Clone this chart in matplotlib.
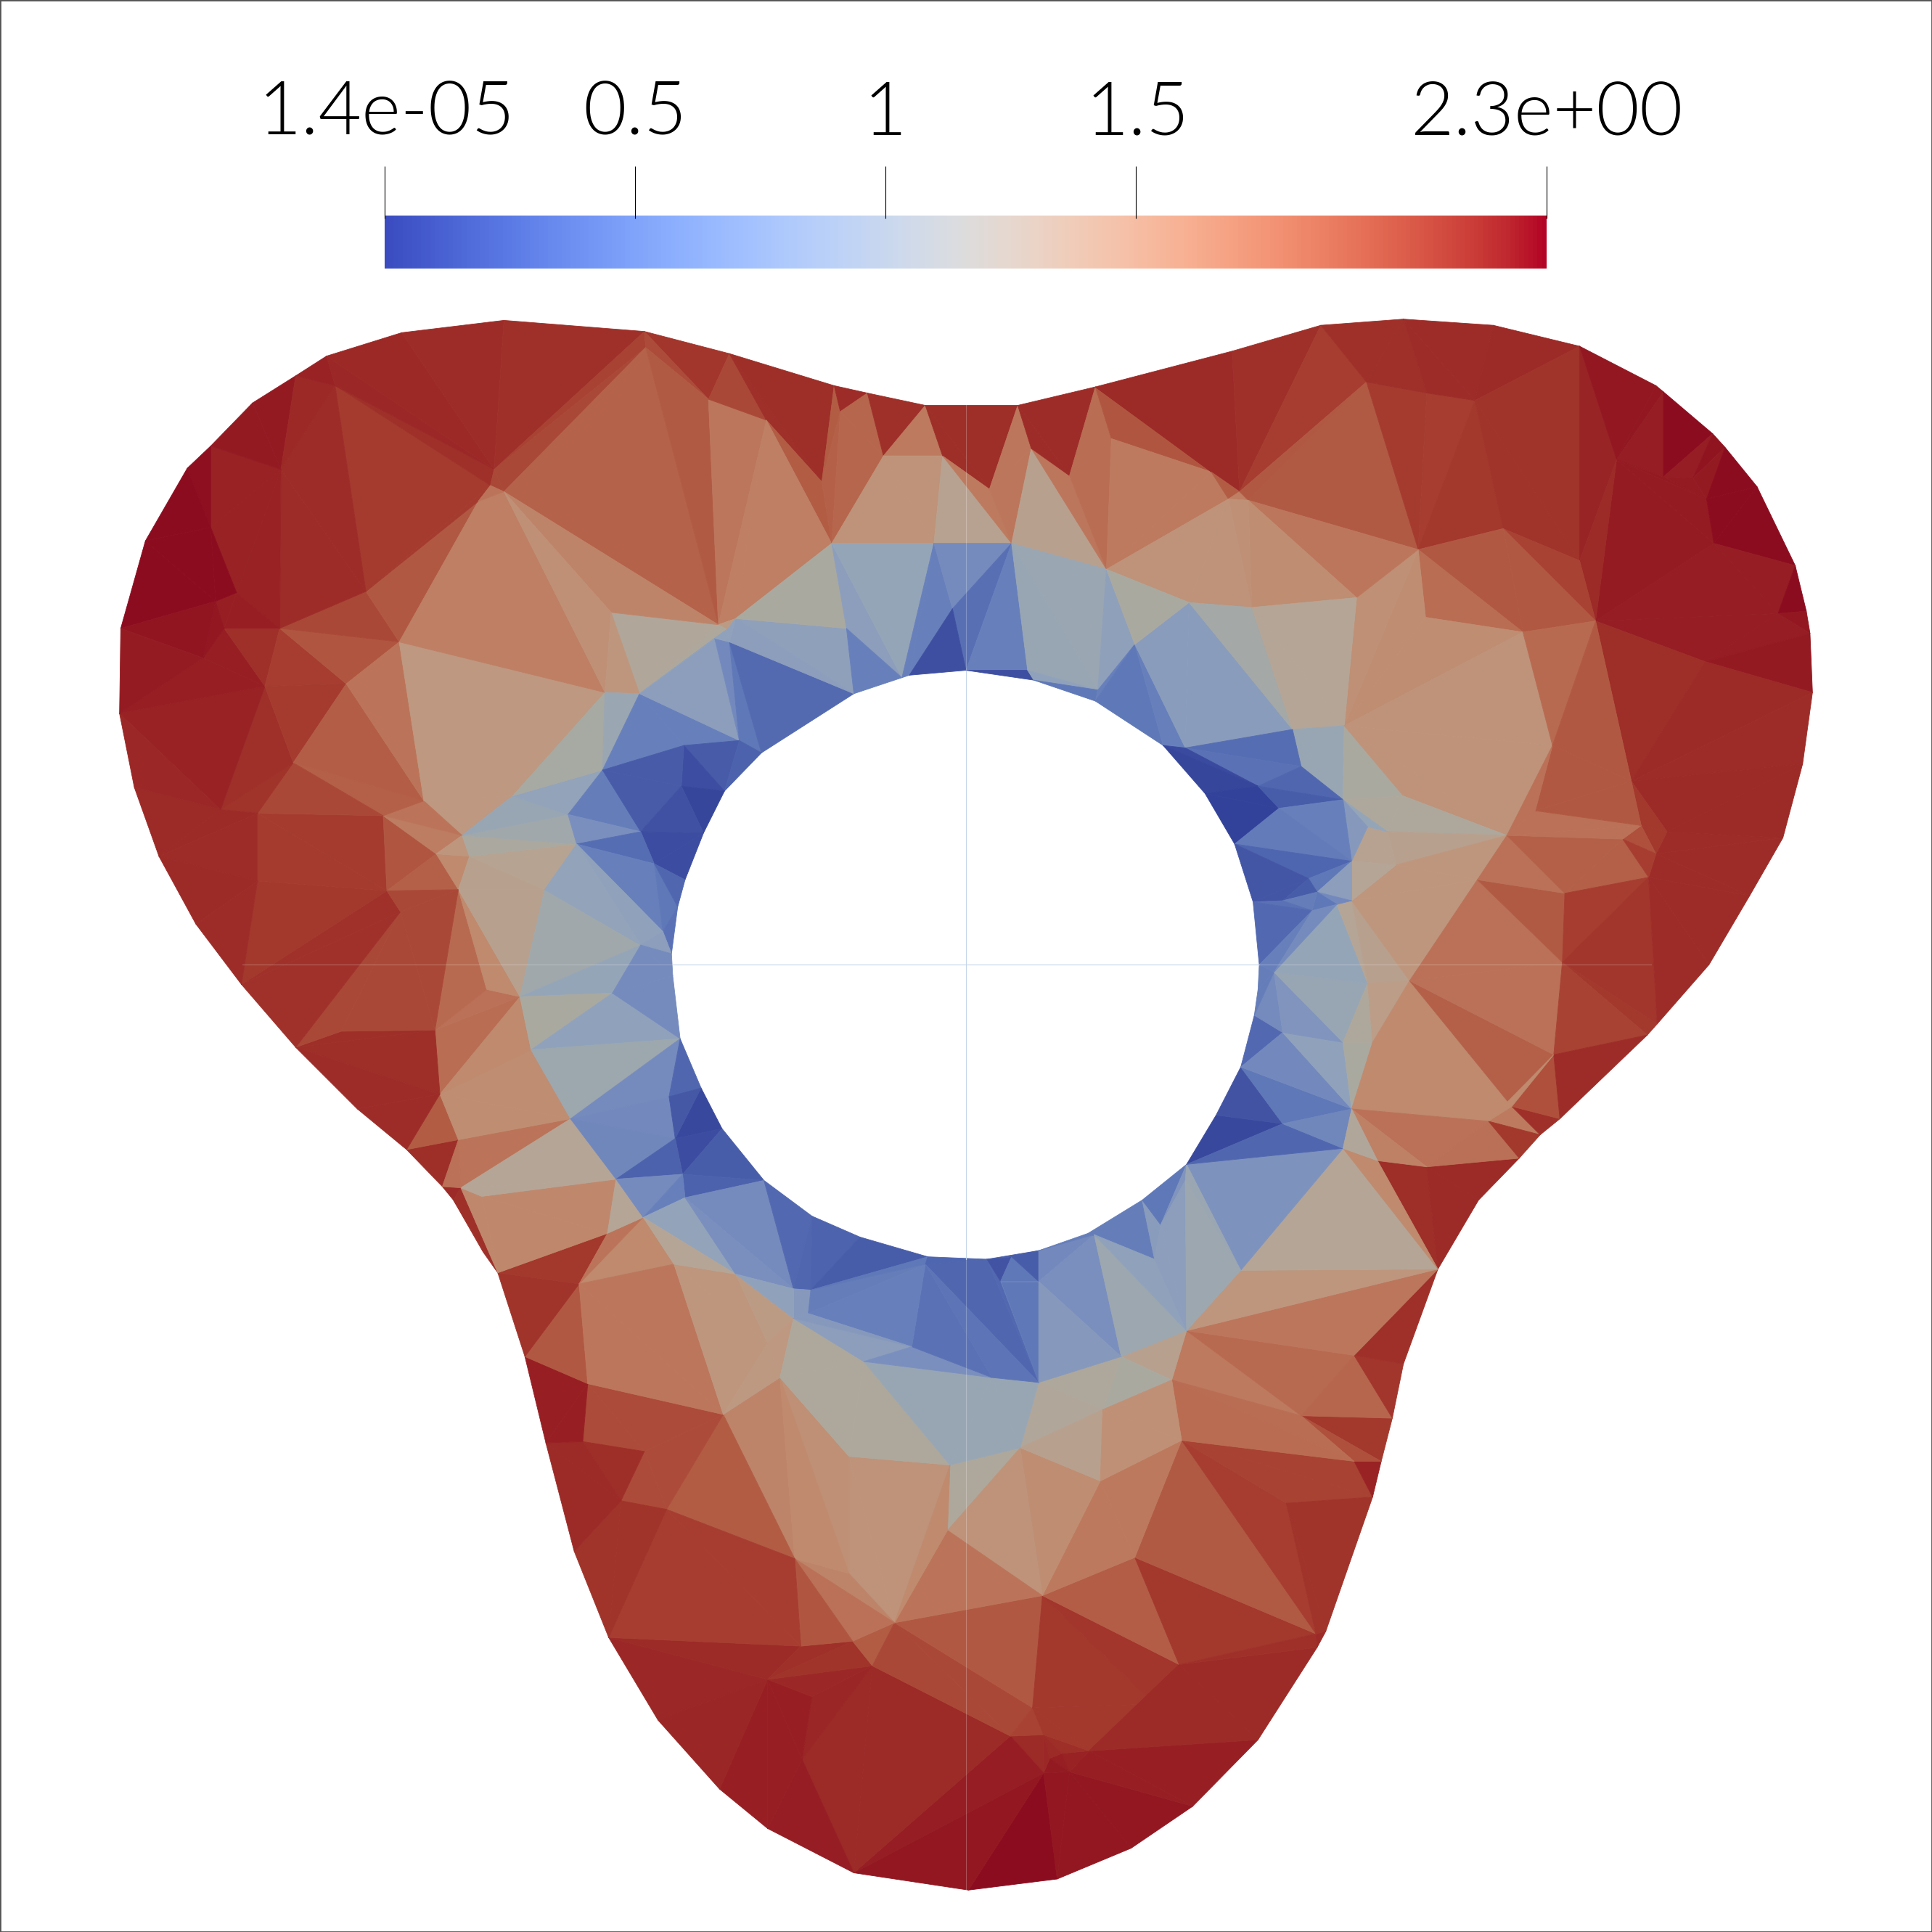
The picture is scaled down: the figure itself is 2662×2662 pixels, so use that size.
import numpy as np
import matplotlib
matplotlib.use("Agg")
import matplotlib.pyplot as plt
from matplotlib.colors import LinearSegmentedColormap
from matplotlib.tri import Triangulation

plt.rcParams['font.family'] = ['Lato', 'Liberation Sans', 'DejaVu Sans']

# mesh nodes (1568 px frame, y down)
node_x = [786,858,918,968,1021,1069,1076,1114,1121,1130,
          1139,1167,1200,1233,1250,1266,1337,1345,1387,1420,
          1447,1463,1471,1469,1466,1457,1426,1400,1390,1350,
          1344,1282,1212,1139,1072,1000,889,826,751,704,
          677,592,523,409,326,265,240,205,171,152,
          118,98,97,109,129,159,196,240,290,330,
          359,368,392,404,426,443,466,494,534,584,
          623,693,784,839,889,944,978,1002,1017,1022,
          1021,1018,1007,987,963,927,883,843,801,753,
          698,659,620,586,569,552,546,545,550,556,
          571,588,618,693,732,738,272,228,171,192,
          175,182,227,297,401,398,388,409,324,281,
          215,165,238,344,491,416,489,179,209,311,
          375,354,381,461,468,520,531,538,520,442,
          372,314,325,209,422,497,431,395,353,277,
          357,372,463,543,548,500,554,556,522,374,
          391,493,470,547,597,644,658,656,644,623,
          633,587,477,541,504,523,473,645,689,689,
          701,740,751,771,769,726,650,692,708,623,
          659,651,524,575,622,667,682,717,765,803,
          837,868,675,758,821,583,496,519,597,687,
          590,580,592,600,555,553,563,773,834,898,
          902,983,1006,997,1013,1109,1158,1197,1151,1220,
          1282,1312,1350,1374,1385,1391,1443,1295,1384,1236,
          1157,1101,1016,965,921,891,962,1049,1091,1260,
          1324,1056,1021,1090,1139,1246,1223,1038,1126,1110,
          1097,1133,1062,1069,1041,1065,1085,1097,1270,1317,
          1332,1353,1344,1338,1199,1268,1144,1261,1227,1208,
          1158,1118,1097,1090,1114,1090,1110,1034,1041,1041,
          962,942,937,888,1007,963,910,843,843,812,
          821,805,951,959,895,893,828,846,921,1099,
          1056,1099,1044,1068,957,937,884,862,852,847,
          868,820,847,838]
node_y = [1534,1525,1500,1466,1412,1337,1324,1215,1186,1151,
          1107,1030,974,940,921,908,840,831,783,727,
          680,620,562,514,496,459,395,363,352,318,
          313,281,264,259,264,285,314,329,329,319,
          313,287,269,260,270,289,305,327,362,380,
          439,510,579,639,695,750,799,850,900,933,
          963,974,1016,1033,1101,1171,1259,1329,1396,1452,
          1484,1520,544,552,569,605,644,685,732,783,
          803,824,866,905,945,974,1001,1015,1022,1020,
          1004,987,958,916,883,843,792,774,736,714,
          676,642,611,563,550,548,313,381,428,481,
          488,510,510,480,381,394,407,399,521,555,
          557,534,619,650,562,646,625,657,660,662,
          678,693,695,661,685,675,701,756,767,722,
          722,723,740,715,809,806,852,803,836,837,
          888,925,908,890,924,957,953,972,988,964,
          971,1001,1042,1026,1034,1046,1047,1066,1070,1090,
          1118,1148,1123,1225,1218,1178,1170,1265,1277,1182,
          1105,1093,1026,1189,1242,1317,1336,1332,1352,1363,
          1377,1428,282,324,341,391,334,370,370,397,
          364,386,441,441,441,507,497,563,502,510,
          511,518,521,601,605,638,660,494,544,462,
          356,383,399,405,406,310,319,325,446,429,
          455,373,387,388,405,441,498,504,537,513,
          501,485,493,489,523,560,607,592,589,605,
          634,622,638,649,646,658,678,656,675,671,
          699,702,713,724,731,739,734,731,725,681,
          670,675,693,712,714,781,796,856,898,910,
          947,942,900,932,846,846,798,789,838,912,
          958,994,1022,1002,1031,1080,1101,1040,1122,1040,
          1020,1118,1120,1169,1144,1202,1175,1295,1264,1100,
          1149,1186,1220,1326,1351,1383,1421,1423,1427,1439,
          1438,1409,1408,1386]

# bottom lobe
bottom_tris = [(0,1,319),(71,0,319),(1,320,319),(1,2,320),(2,3,320),(3,4,316),(3,316,320),(316,317,320),
               (317,318,320),(318,319,320),(322,316,317),(322,317,318),(322,318,319),(321,322,319),(321,319,71),(188,321,71),
               (188,71,191),(190,188,191),(189,190,191),(191,71,70),(189,191,70),(189,70,69),(189,188,190),(67,68,189),
               (68,69,189),(67,189,186),(186,187,189),(187,188,189),(187,185,188),(185,321,188),(185,323,321),(185,307,323),
               (321,323,322),(323,316,322),(323,315,316),(307,315,323),(307,314,315),(307,308,314),(314,4,316),(314,316,315),
               (314,5,4),(308,313,314),(313,5,314),(313,6,5)]
bottom_vals = [2.3,2.22,2.22,2.22,2.22,2.17,2.17,2.15,
               2.17,2.2,2.07,2.1,2.12,2.1,2.18,2.1,
               2.1,2.13,2.17,2.18,2.17,2.17,2.12,2.12,
               2.13,2.1,2.05,2.03,1.85,1.93,1.93,1.87,
               1.95,2.0,2.0,2.0,2.02,1.84,2.1,2.1,
               2.1,2.0,2.05,2.1]

# lower right, up to the neck
lowright_tris = [(308,303,313),(303,312,313),(303,311,7),(303,7,312),(312,7,6),(312,6,313),(305,303,308),(305,308,307),
                 (306,305,307),(183,306,184),(184,306,307),(184,307,185),(179,183,185),(179,185,178),(183,184,185),(177,178,185),
                 (170,179,178),(171,170,177),(170,178,177),(177,185,187),(177,187,186),(173,171,177),(173,177,186),(173,186,67),
                 (8,7,311),(310,9,8),(310,8,311),(295,310,302),(302,310,311),(302,311,303),(295,302,296),(296,302,304),
                 (298,296,304),(298,304,306),(304,305,306),(304,302,303),(304,303,305),(295,309,310),(309,9,310),(309,10,9),
                 (309,11,10),(295,11,309),(294,11,295),(283,294,11),(281,280,11),(280,12,11),(280,13,12),(283,281,11)]
lowright_vals = [1.86,1.97,1.95,1.95,2.03,2.03,1.66,1.66,
                 1.47,1.2,1.42,1.7,1.42,1.42,1.5,1.55,
                 1.45,1.55,1.5,1.72,1.88,1.85,1.97,1.97,
                 2.15,2.0,1.9,1.65,1.75,1.76,1.3,1.17,
                 1.2,1.22,1.3,1.45,1.45,1.78,1.8,2.02,
                 2.05,1.68,1.4,1.25,2.07,2.1,2.1,1.5]

# lower left flank
lowleft_tris = [(173,174,175),(172,171,175),(175,171,173),(172,175,176),(174,173,67),(66,174,67),(176,175,174),(65,176,174),
                (65,174,66),(64,172,65),(172,176,65),(64,162,172),(63,162,64),(63,161,162),(162,158,163),(161,158,162),
                (162,163,171),(162,171,172),(163,164,169),(163,169,171),(169,170,171),(164,168,169),(168,170,169),(168,180,170),
                (180,179,170),(180,183,179),(180,301,183),(301,298,306),(301,306,183),(168,181,180),(181,301,180),(182,301,181),
                (182,88,298),(182,298,301),(88,299,298),(88,300,299),(300,297,299),(300,87,297),(299,297,298),(88,87,300)]
lowleft_vals = [1.92,1.92,1.92,1.92,2.03,2.03,2.07,2.1,
                2.1,2.17,2.17,1.87,2.03,2.0,1.5,1.7,
                1.68,1.68,1.4,1.4,1.37,1.35,1.38,1.2,
                1.2,1.2,1.03,1.03,1.03,0.9,0.75,0.5,
                0.4,0.53,0.42,0.2,0.55,0.3,0.55,0.3]

# blue ring, bottom right part
ringbr_tris = [(87,293,297),(297,293,296),(297,296,298),(86,293,87),(86,85,292),(86,292,293),(293,295,296),(293,292,295),
               (85,291,292),(85,84,291),(84,290,291),(290,295,291),(291,295,292),(84,283,294),(84,294,290),(290,294,295),
               (83,289,84),(289,283,84),(82,289,83),(82,282,289),(289,282,283),(81,288,82),(288,282,82),(288,285,282),
               (287,288,81),(80,287,81),(79,287,80),(287,285,288),(287,286,285),(266,286,287),(266,267,286),(267,276,286),
               (282,285,284),(284,285,286),(284,286,276),(282,284,279),(284,276,278),(284,278,279),(282,279,280),(279,13,280),
               (282,280,281),(282,281,283),(279,278,14),(279,14,13),(278,15,14),(276,277,278),(278,277,15)]
ringbr_vals = [0.7,0.75,0.85,0.6,0.6,0.6,1.07,0.95,
               0.88,0.55,0.8,0.9,0.9,0.78,1.05,1.07,
               0.08,0.4,0.2,0.55,0.68,0.42,0.7,0.95,
               0.72,0.6,0.6,0.8,1.03,1.0,1.25,1.3,
               1.17,1.2,1.33,1.5,1.5,1.5,1.72,1.73,
               1.58,1.22,1.65,2.0,2.05,1.83,1.9]

# left, neck and ring
left_tris = [(60,159,61),(61,159,63),(61,63,62),(160,155,161),(160,161,63),(159,160,63),(155,158,161),(151,152,159),
             (159,152,155),(159,155,160),(59,151,60),(151,159,60),(59,150,151),(150,146,152),(150,152,151),(148,144,150),
             (144,146,150),(148,147,144),(140,147,148),(140,144,147),(140,139,144),(139,138,144),(138,145,144),(144,145,146),
             (145,95,146),(146,95,152),(95,153,152),(95,94,153),(153,154,152),(152,154,155),(94,93,154),(94,154,153),
             (93,156,154),(154,156,155),(93,92,156),(92,157,156),(155,156,158),(156,157,158),(157,164,158),(158,164,163),
             (157,92,165),(92,91,165),(157,165,164),(91,166,165),(91,90,166),(90,89,166),(165,166,167),(165,167,168),
             (166,182,167),(167,182,181),(164,165,168),(167,181,168),(166,89,182),(182,89,88)]
left_vals = [2.1,2.05,2.05,1.52,1.52,1.52,1.25,1.7,
             1.25,1.25,2.07,1.72,1.85,1.47,1.47,1.75,
             1.5,1.72,1.78,1.5,1.3,1.1,1.0,1.17,
             0.95,1.08,0.72,0.4,0.7,0.68,0.08,0.25,
             0.12,0.35,0.3,0.35,0.72,0.62,0.98,1.25,
             0.72,0.42,0.75,0.4,0.36,0.3,0.85,0.85,
             0.6,0.62,0.95,0.85,0.55,0.38]

# left lobe
leftlobe_tris = [(57,149,148),(57,148,150),(57,150,58),(58,150,59),(142,140,148),(142,148,149),(142,149,57),(141,142,56),
                 (142,57,56),(143,141,56),(128,129,141),(128,141,143),(129,131,141),(131,140,141),(131,132,140),(129,130,131),
                 (130,132,131),(132,139,140),(132,134,139),(130,134,132),(130,133,134),(123,125,130),(125,133,130),(125,126,133),
                 (123,130,129),(122,123,129),(122,129,128),(122,128,127),(53,54,127),(54,127,128),(54,128,143),(54,143,55),
                 (55,143,56),(141,140,142),(120,122,127),(52,120,127),(52,127,53),(121,120,52),(111,120,121),(111,112,120),
                 (112,119,120),(120,119,122),(112,118,119),(112,113,118),(119,123,122),(119,118,123),(118,125,123),(118,124,125),
                 (125,124,126),(113,116,118),(116,117,118),(117,124,118),(113,115,116),(106,115,113),(106,114,115),(106,107,113),
                 (107,112,113),(48,107,108),(108,107,109),(109,107,112),(109,112,111),(110,109,111),(46,47,107),(47,48,107),
                 (46,106,107),(45,106,46),(45,114,106),(44,114,45),(43,114,44),(114,43,42),(114,42,192),(114,192,117),
                 (114,117,115),(115,117,116),(48,49,108),(49,50,108),(50,110,108),(108,110,109),(50,51,110),(110,111,121),
                 (51,110,121),(51,121,52)]
leftlobe_vals = [2.07,2.07,2.08,2.08,1.93,1.93,1.93,2.04,
                 2.04,2.0,1.98,1.98,1.88,1.83,1.5,1.62,
                 1.4,1.3,1.27,1.18,1.1,1.38,1.03,0.97,
                 1.7,1.83,1.93,2.03,2.1,2.1,2.08,2.1,
                 2.08,1.93,2.06,2.15,2.12,2.17,2.17,2.05,
                 1.97,1.98,1.88,1.93,1.84,1.7,1.38,1.38,
                 1.15,1.87,1.6,1.6,1.98,1.98,2.05,2.08,
                 2.08,2.15,2.15,2.15,2.17,2.17,2.2,2.2,
                 2.11,2.15,2.12,2.11,2.08,2.05,1.95,1.93,
                 1.93,1.7,2.28,2.3,2.3,2.3,2.3,2.22,
                 2.24,2.19]

# top middle
top_tris = [(42,41,193),(42,193,192),(117,192,205),(192,193,205),(193,194,205),(194,208,205),(41,194,193),(41,195,194),
            (41,40,195),(194,195,202),(194,202,208),(40,196,195),(195,196,202),(40,39,196),(196,39,197),(196,197,202),
            (39,38,197),(38,198,197),(197,198,203),(197,203,202),(198,204,203),(38,37,199),(38,199,198),(198,199,204),
            (37,200,199),(199,200,204),(200,219,204),(200,201,219),(37,36,201),(37,201,200),(36,220,201),(201,220,219),
            (36,221,220),(220,221,219),(221,223,219),(36,222,221),(36,35,222),(35,34,222),(221,222,223),(34,225,222),
            (34,33,225),(222,224,223),(222,225,224)]
top_vals = [2.02,1.92,1.82,1.86,1.68,1.6,1.93,2.06,
            2.07,1.85,1.6,1.85,1.83,2.08,1.8,1.8,
            2.05,1.65,1.42,1.42,1.28,2.07,2.07,1.65,
            1.68,1.68,1.3,1.68,2.08,2.08,1.75,1.75,
            1.88,1.65,1.65,2.1,2.1,2.05,1.85,1.97,
            2.05,1.6,1.87]

# blue ring, top part
ringtop_tris = [(205,208,210),(205,210,207),(206,205,207),(117,205,206),(117,206,124),(206,207,124),(124,207,126),(126,207,214),
                (207,213,214),(207,211,213),(207,210,211),(211,212,213),(212,102,213),(212,103,102),(208,209,103),(208,103,212),
                (208,212,210),(210,212,211),(208,202,209),(202,209,104),(209,103,104),(202,203,104),(203,217,105),(104,203,105),
                (203,204,217),(217,204,72),(217,72,105),(204,218,72),(72,218,73),(204,219,245),(219,244,245),(204,245,218),
                (218,245,73),(73,245,74),(245,244,74),(244,75,74),(244,246,75),(244,243,246),(243,247,246),(214,213,101),
                (213,102,101),(214,101,215),(215,101,100),(126,214,215),(126,135,133),(126,215,135),(215,100,135),(133,135,134),
                (135,100,136),(134,135,136),(100,99,136),(134,136,137),(136,98,137),(136,99,98),(98,97,137),(134,137,138),
                (134,138,139),(137,97,138),(138,97,96),(138,96,145),(145,96,95)]
ringtop_vals = [1.35,1.2,1.22,1.55,1.45,1.4,1.05,0.62,
                0.62,0.9,0.95,0.7,0.55,0.43,0.93,0.9,
                0.95,0.95,1.17,0.9,0.62,1.0,0.62,0.62,
                0.72,0.48,0.15,0.62,0.15,1.05,0.93,1.03,
                0.95,0.55,0.62,0.55,0.62,0.88,0.88,0.28,
                0.35,0.14,0.05,0.28,0.6,0.28,0.18,0.75,
                0.12,0.45,0.12,0.62,0.55,0.4,0.5,0.95,
                0.97,0.9,0.72,0.72,0.72]

# right lobe
rightlobe_tris = [(224,225,228),(225,226,228),(226,227,228),(33,226,225),(33,32,227),(33,227,226),(32,31,227),(227,229,228),
                  (227,31,230),(227,230,229),(31,231,230),(31,30,231),(30,29,231),(29,232,231),(29,28,232),(28,233,232),
                  (28,27,233),(27,234,233),(27,26,234),(232,233,234),(231,232,234),(231,234,235),(231,235,237),(230,231,237),
                  (26,25,235),(26,235,234),(235,25,236),(25,24,236),(235,236,237),(24,23,236),(236,23,238),(236,238,237),
                  (23,22,238),(237,238,250),(238,22,250),(22,21,250),(229,230,237),(228,229,239),(229,237,239),(228,239,240),
                  (240,239,248),(228,240,248),(228,248,241),(224,228,241),(224,241,242),(223,224,242),(223,242,243),(219,223,243),
                  (219,243,244),(243,242,247),(242,241,248),(242,248,247),(247,248,253),(247,253,251),(246,247,251),(246,251,252),
                  (75,246,252),(75,252,76),(76,252,257),(76,257,77),(251,253,252),(252,253,257),(248,254,253),(248,239,249),
                  (248,249,256),(248,256,254),(254,256,258),(253,254,258),(258,256,261),(267,261,274),(261,256,274),(267,274,276),
                  (259,258,261),(259,261,260),(253,258,259),(253,259,260),(260,261,267),(257,253,260),(77,257,260)]
rightlobe_vals = [1.86,1.98,1.97,2.06,2.08,2.08,2.1,2.0,
                  2.03,2.03,2.14,2.22,2.22,2.18,2.3,2.18,
                  2.25,2.2,2.3,2.19,2.2,2.19,2.19,2.1,
                  2.3,2.3,2.18,2.3,2.18,2.22,2.18,2.18,
                  2.2,2.07,2.1,2.08,1.95,1.87,1.87,1.75,
                  1.47,1.47,1.45,1.68,1.47,1.45,1.42,1.42,
                  1.17,1.13,1.25,1.25,1.03,1.03,0.45,0.5,
                  0.1,0.05,0.02,0.02,0.4,0.3,1.17,1.42,
                  1.42,1.42,1.2,1.2,1.3,1.4,1.4,1.4,
                  1.28,1.28,1.0,0.85,1.25,0.62,0.58]

# right side of the ring and the outer flank
right_tris = [(77,260,262),(77,262,78),(78,262,264),(262,260,263),(263,260,267),(263,267,266),(263,266,265),(262,263,264),
              (263,265,264),(78,264,265),(78,265,79),(79,265,287),(265,266,287),(276,275,277),(276,274,275),(274,268,275),
              (274,256,268),(256,269,268),(269,273,268),(268,273,275),(273,17,275),(275,17,16),(275,16,277),(277,16,15),
              (273,18,17),(273,19,18),(273,272,19),(272,20,19),(271,20,272),(21,20,271),(250,21,271),(250,271,270),
              (270,271,272),(269,270,272),(269,272,273),(256,255,270),(256,270,269),(249,250,255),(250,270,255),(249,255,256),
              (239,237,249),(237,250,249),(278,277,279)]
right_vals = [0.38,0.22,0.22,0.55,0.9,0.7,0.55,0.3,
              0.6,0.5,0.42,0.62,0.72,1.72,1.72,1.86,
              1.72,1.83,1.83,1.97,2.02,2.0,1.95,2.08,
              2.08,2.08,2.08,2.08,2.08,2.1,2.1,2.0,
              2.0,1.9,1.97,1.72,1.72,1.87,1.87,1.72,
              1.78,1.87,1.5]

# colours of the lit surface at a few data values
lit_levels = [0.0, 0.03, 0.12, 0.25, 0.38, 0.5, 0.62, 0.75, 0.88, 0.98, 1.07, 1.17,
              1.25, 1.38, 1.5, 1.65, 1.78, 1.88, 1.97, 2.05, 2.12, 2.2, 2.32]
lit_colours = ['#30409a', '#34449a', '#3c4ca0', '#4558a6', '#4e65af', '#5a72b5', '#6780bb', '#7a8fbe',
               '#8a9cbc', '#93a4ba', '#9ca7b0', '#aaa9a0', '#b5a596', '#be9880', '#bf8a6e', '#bd7a5f',
               '#b86a50', '#b05640', '#a63d30', '#9f3029', '#9b2826', '#941a22', '#8b0a1e']

# colour bar
vmin = 1.4e-05
vmax = 2.32
bar_ticks = [1.4e-05, 0.5, 1.0, 1.5, 2.32]
bar_labels = ["1.4e-05", "0.5", "1", "1.5", "2.3e+00"]
label_shift = [1, 0, 0, 1, 0]

# faint axes cross through the hole centre
cross_h = [197, 1340]
cross_v = [327, 1535]
hole_h = [546, 1022]
hole_v = [544, 1022]
centre = [784, 783]

triangles = bottom_tris + lowright_tris + lowleft_tris + ringbr_tris + left_tris + leftlobe_tris + top_tris + ringtop_tris + rightlobe_tris + right_tris
tri_values = bottom_vals + lowright_vals + lowleft_vals + ringbr_vals + left_vals + leftlobe_vals + top_vals + ringtop_vals + rightlobe_vals + right_vals

lit_cmap = LinearSegmentedColormap.from_list(
    'lit', [(v / vmax, c) for v, c in zip(lit_levels, lit_colours)], N=512)

fig = plt.figure(figsize=(13.31, 13.31), dpi=200)
ax = fig.add_axes([0, 0, 1, 1])
tri = Triangulation(np.array(node_x, float), np.array(node_y, float), np.array(triangles))
ax.tripcolor(tri, facecolors=np.array(tri_values), cmap=lit_cmap, vmin=0, vmax=vmax,
             edgecolors='face', linewidth=0.3)

ax.plot(cross_h, [centre[1], centre[1]], color='white', lw=0.4, alpha=0.25)
ax.plot([centre[0], centre[0]], cross_v, color='white', lw=0.4, alpha=0.25)
ax.plot(hole_h, [centre[1], centre[1]], color='#c5d5e8', lw=0.4)
ax.plot([centre[0], centre[0]], hole_v, color='#c5d5e8', lw=0.4)

ax.set_xlim(0, 1568)
ax.set_ylim(1568, 0)
ax.set_xticks([])
ax.set_yticks([])
for s in ax.spines.values():
    s.set_linewidth(1.0)
    s.set_color('#555555')

# bar spans 312..1255 by 175..218 in the same frame
cax = fig.add_axes([312 / 1568, 1 - 218 / 1568, 943 / 1568, 43 / 1568])
cax.imshow(np.linspace(0, 1, 256).reshape(1, -1), cmap='coolwarm', aspect='auto',
           extent=[vmin, vmax, 0, 1])
cax.vlines(bar_ticks, 0.94, 1.93, color='black', lw=0.4, clip_on=False)
cax.set_ylim(0, 1)
cax.set_xlim(vmin, vmax)
cax.set_xticks([])
cax.set_yticks([])
for t, lab, dx in zip(bar_ticks, bar_labels, label_shift):
    cax.annotate(lab, (t, 1), xytext=(dx, 40), textcoords='offset points',
                 ha='center', va='baseline', fontsize=37, fontweight=300,
                 annotation_clip=False)
for s in cax.spines.values():
    s.set_visible(False)

fig.savefig("out.png", dpi=200)
